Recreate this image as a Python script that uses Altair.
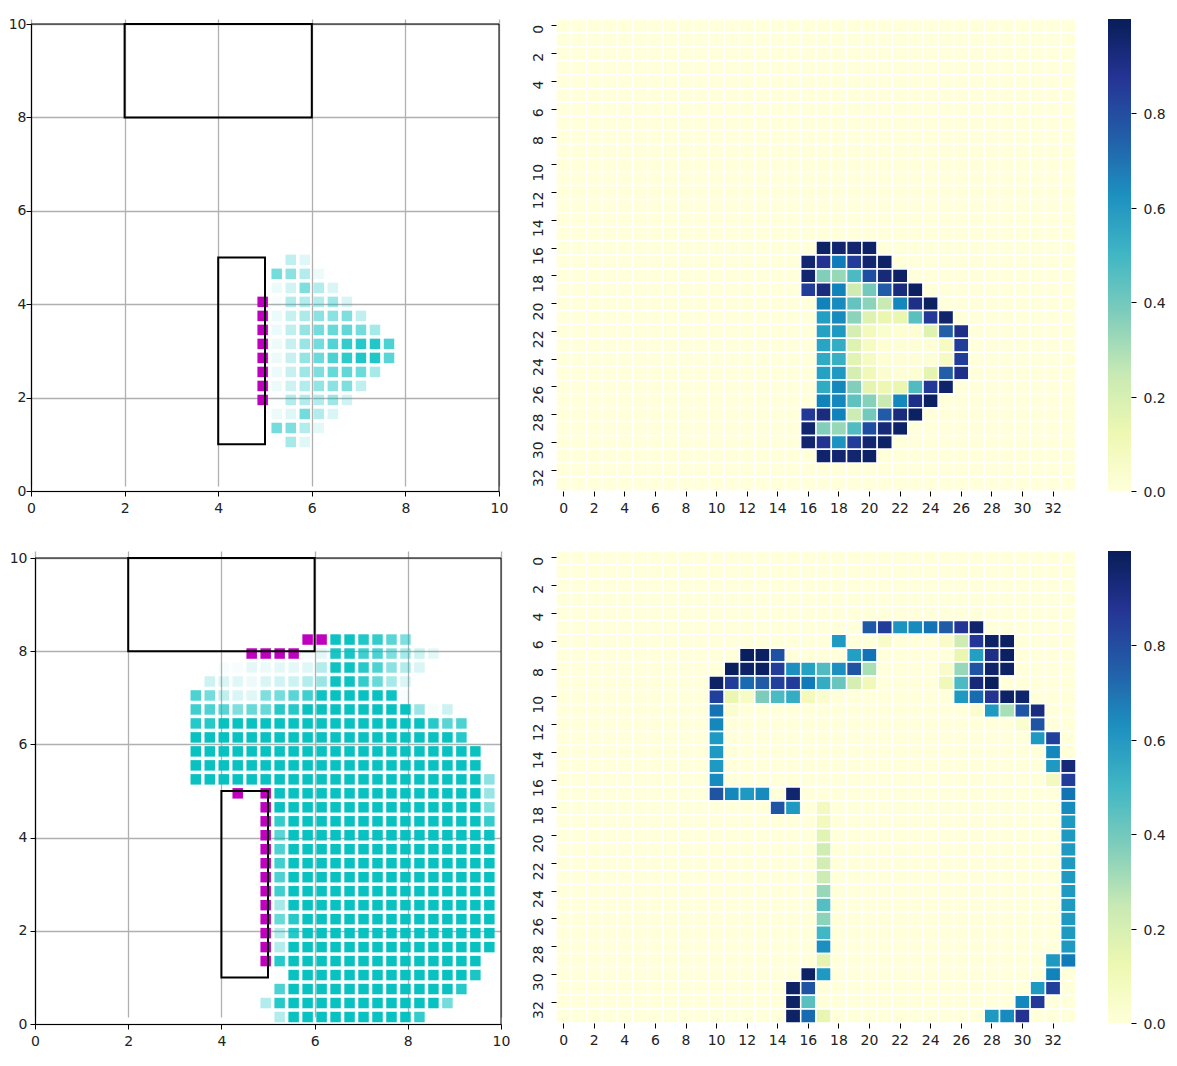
import altair as alt
import pandas as pd

TICKS = [0, 2, 4, 6, 8, 10]
HEAT_TICKS = list(range(0, 34, 2))
BAR_TICKS = [0.0, 0.2, 0.4, 0.6, 0.8]
YLGNBU = ["#ffffd9", "#edf8b1", "#c7e9b4", "#7fcdbb", "#41b6c4", "#1d91c0", "#225ea8", "#253494", "#081d58"]
YLGNBU_POS = [0, 0.125, 0.25, 0.375, 0.5, 0.625, 0.75, 0.875, 1]
TEAL = "#00bfbf"
MAGENTA = "#bf00bf"
RECT_A = [2, 8, 6, 10]
RECT_B = [4, 1, 5, 5]

# row index k -> (first column i, alpha values)
TOP_TEAL = {
    16: (18, [.25, .12]),
    15: (17, [.55, .45, .3, .08]),
    14: (17, [.07, .18, .5, .3, .15]),
    13: (17, [.03, .3, .3, .3, .38, .15]),
    12: (17, [.08, .22, .32, .45, .45, .5, .25]),
    11: (17, [.08, .25, .42, .55, .6, .62, .55, .35]),
    10: (17, [.07, .22, .4, .55, .68, .8, .85, .87, .7]),
    9: (17, [.07, .22, .42, .58, .7, .82, .87, .88, .65]),
    8: (17, [.08, .22, .38, .5, .6, .62, .58, .35]),
    7: (17, [.07, .2, .3, .42, .45, .5, .25]),
    6: (17, [.02, .3, .3, .3, .38, .18]),
    5: (17, [.07, .12, .55, .3, .15]),
    4: (17, [.55, .5, .3, .1]),
    3: (18, [.35, .12]),
}
TOP_MAGENTA = [(16, 13), (16, 12), (16, 11), (16, 10), (16, 9), (16, 8), (16, 7), (16, 6)]

BOT_TEAL = {
    27: (21, [.95, .95, .88, .8, .65, .5]),
    26: (19, [.03, .1, .9, .9, .75, .7, .5, .35, .2, .1]),
    25: (13, [.03, .03, .1, .07, .1, .1, .12, .3, .95, .95, .85, .7, .45, .3, .15]),
    24: (12, [.2, .15, .12, .07, .15, .18, .2, .3, .4, .95, .95, .8, .6, .35, .15]),
    23: (11, [.7, .55, .25, .15, .12, .5, .55, .65, .75, .95, .97, .97, .97, .97, .95, .03]),
    22: (11, [.75, .7, .65, .5, .6, .6, .85, .85, .97, .97, .97, .97, .97, .97, .97, .97, .4, .04, .2]),
    21: (11, [.85, .85, .97, .97, .97, .97, .97, .97, .97, .97, .97, .97, .97, .97, .97, .97, .97, .85, .65, .7]),
    20: (11, [.97, .97, .97, .97, .97, .97, .97, .97, .97, .97, .97, .97, .97, .97, .97, .97, .97, .97, .97, .85]),
    19: (11, [.97, .97, .97, .97, .97, .97, .97, .97, .97, .97, .97, .97, .97, .97, .97, .97, .97, .97, .97, .97, .97]),
    18: (11, [.97, .97, .97, .97, .97, .97, .97, .97, .97, .97, .97, .97, .97, .97, .97, .97, .97, .97, .97, .97, .97]),
    17: (11, [.97, .97, .97, .97, .97, .97, .97, .97, .97, .97, .97, .97, .97, .97, .97, .97, .97, .97, .97, .97, .97, .45]),
    16: (15, [.03, 0, .97, .97, .97, .97, .97, .97, .97, .97, .97, .97, .97, .97, .97, .97, .97, .4]),
    15: (17, [.97, .97, .97, .97, .97, .97, .97, .97, .97, .97, .97, .97, .97, .97, .97, .5]),
    14: (17, [.8, .97, .97, .97, .97, .97, .97, .97, .97, .97, .97, .97, .97, .97, .97, .8]),
    13: (17, [.65, .97, .97, .97, .97, .97, .97, .97, .97, .97, .97, .97, .97, .97, .97, .95]),
    12: (17, [.7, .97, .97, .97, .97, .97, .97, .97, .97, .97, .97, .97, .97, .97, .97, .97]),
    11: (17, [.75, .97, .97, .97, .97, .97, .97, .97, .97, .97, .97, .97, .97, .97, .97, .97]),
    10: (17, [.7, .97, .97, .97, .97, .97, .97, .97, .97, .97, .97, .97, .97, .97, .97, .97]),
    9: (17, [.75, .97, .97, .97, .97, .97, .97, .97, .97, .97, .97, .97, .97, .97, .97, .97]),
    8: (17, [.35, .97, .97, .97, .97, .97, .97, .97, .97, .97, .97, .97, .97, .97, .97, .97]),
    7: (17, [.6, .85, .97, .97, .97, .97, .97, .97, .97, .97, .97, .97, .97, .97, .97, .97]),
    6: (17, [.3, .85, .97, .97, .97, .97, .97, .97, .97, .97, .97, .97, .97, .97, .97, .97]),
    5: (17, [.3, .97, .97, .97, .97, .97, .97, .97, .97, .97, .97, .97, .97, .97, .97, .97]),
    4: (17, [.85, .97, .97, .97, .97, .97, .97, .97, .97, .97, .97, .97, .97, .97, .97]),
    3: (17, [.02, .97, .97, .97, .97, .97, .97, .97, .97, .97, .97, .97, .97, .97, .9]),
    2: (17, [.7, .97, .97, .97, .97, .97, .97, .97, .97, .97, .97, .97, .97, .85]),
    1: (16, [.3, .85, .97, .97, .97, .97, .97, .97, .97, .97, .97, .97, .97, .55]),
    0: (17, [.3, .97, .97, .97, .97, .97, .97, .97, .97, .97, .8]),
}
BOT_MAGENTA = [(19, 27), (20, 27), (15, 26), (16, 26), (17, 26), (18, 26), (14, 16), (16, 16),
               (16, 15), (16, 14), (16, 13), (16, 12), (16, 11), (16, 10), (16, 9), (16, 8),
               (16, 7), (16, 6), (16, 5), (16, 4)]

# heat row r -> (first column c, values); missing cells are 0
TOP_HEAT = {
    16: (17, [.97, .95, .95, .97]),
    17: (16, [.95, .88, .68, .85, .95, .97]),
    18: (16, [.95, .37, .33, .48, .8, .93, .97]),
    19: (16, [.85, .92, .66, .22, .4, .76, .92, .98]),
    20: (17, [.66, .64, .43, .35, .24, .65, .9, .98]),
    21: (17, [.58, .64, .35, .17, .13, .13, .45, .86, .96]),
    22: (17, [.57, .6, .2, .09, .04, .02, .02, .17, .75, .9]),
    23: (17, [.56, .53, .17, .07, .02, .01, .01, .01, .07, .85]),
    24: (17, [.54, .52, .16, .07, .02, .01, .01, .01, .07, .85]),
    25: (17, [.57, .6, .2, .1, .03, .01, .02, .15, .75, .9]),
    26: (17, [.54, .65, .37, .15, .12, .13, .47, .86, .96]),
    27: (17, [.66, .65, .44, .36, .24, .65, .9, .98]),
    28: (16, [.86, .92, .66, .23, .4, .76, .92, .98]),
    29: (16, [.95, .37, .33, .47, .8, .93, .97]),
    30: (16, [.95, .88, .62, .85, .95, .97]),
    31: (17, [.96, .95, .95, .97]),
}
BOT_HEAT = [
    (5, 20, [.77, .85, .62, .64, .7, .76, .87, .96]),
    (6, 18, [.6]), (6, 21, [.05]), (6, 25, [.05, .22, .87, .97, .98]),
    (7, 12, [.99, .98, .79]), (7, 19, [.58, .7]), (7, 26, [.13, .58, .9, .98]),
    (8, 11, [.99, .97, .98, .85, .63, .57, .47, .63, .78, .3]), (8, 25, [.05, .33, .78, .96, .97]),
    (9, 10, [.97, .85, .72, .76, .84, .85, .68, .53, .42, .2, .1]), (9, 25, [.1, .48, .93, .99]),
    (10, 10, [.84, .13, .06, .38, .48, .53, .09, .04]), (10, 26, [.6, .72, .88, .97, .96]),
    (11, 10, [.7, .03]), (11, 27, [.03, .6, .3, .78, .92]),
    (12, 10, [.65]), (12, 30, [.04, .78]),
    (13, 10, [.6]), (13, 31, [.6, .84]),
    (14, 10, [.6]), (14, 32, [.65]),
    (15, 10, [.6]), (15, 32, [.6, .93]),
    (16, 10, [.64]), (16, 32, [.08, .85]),
    (17, 10, [.78, .65, .6, .64]), (17, 15, [.95]), (17, 33, [.7]),
    (18, 14, [.78, .6]), (18, 17, [.08]), (18, 33, [.64]),
    (19, 17, [.09]), (19, 33, [.6]),
    (20, 17, [.16]), (20, 33, [.6]),
    (21, 17, [.22]), (21, 33, [.6]),
    (22, 17, [.21]), (22, 33, [.6]),
    (23, 17, [.23]), (23, 33, [.6]),
    (24, 17, [.33]), (24, 33, [.6]),
    (25, 17, [.46]), (25, 33, [.6]),
    (26, 17, [.35]), (26, 33, [.6]),
    (27, 17, [.5]), (27, 33, [.6]),
    (28, 17, [.63]), (28, 33, [.6]),
    (29, 17, [.15]), (29, 32, [.6, .68]),
    (30, 16, [.97, .6]), (30, 32, [.66]),
    (31, 15, [.97, .78]), (31, 31, [.6, .84]),
    (32, 15, [.97, .45]), (32, 30, [.65, .86]),
    (33, 15, [.97, .72, .14]), (33, 28, [.6, .64, .88]),
]


def grid_x(i):
    return 0.15 + 0.3 * i


def teal_frame(rows):
    out = []
    for k, (start, vals) in rows.items():
        for n, a in enumerate(vals):
            if a > 0:
                out.append({"x": grid_x(start + n), "y": grid_x(k), "a": a})
    return pd.DataFrame(out)


def magenta_frame(cells):
    return pd.DataFrame([{"x": grid_x(i), "y": grid_x(k)} for i, k in cells])


def heat_frame(entries):
    cells = {(r, c): 0.0 for r in range(34) for c in range(34)}
    for r, start, vals in entries:
        for n, v in enumerate(vals):
            cells[(r, start + n)] = v
    return pd.DataFrame([{"r": r, "c": c, "v": v} for (r, c), v in cells.items()])


def scatter_panel(teal, magenta, xrange, yrange, height, ypad, yoffset):
    xs = alt.Scale(domain=[0, 10], range=xrange)
    ys = alt.Scale(domain=[0, 10], range=yrange)
    xa = alt.Axis(values=TICKS, title=None, grid=True, gridColor="#b0b0b0", gridWidth=1.3, tickColor="#000000",
                  domainColor="#000000", labelAngle=0, tickSize=5, labelPadding=5, labelFontSize=14,
                  format="d", labelColor="#222222", domainWidth=1.2, labelFlush=False)
    ya = alt.Axis(values=TICKS, title=None, grid=True, gridColor="#b0b0b0", gridWidth=1.3, tickColor="#000000",
                  domainColor="#000000", tickSize=5, labelPadding=ypad, labelFontSize=14, offset=yoffset,
                  format="d", labelColor="#222222", domainWidth=1.2, labelFlush=False)
    t = alt.Chart(teal).mark_square(size=110, color=TEAL).encode(
        x=alt.X("x:Q", scale=xs, axis=xa), y=alt.Y("y:Q", scale=ys, axis=ya),
        opacity=alt.Opacity("a:Q", scale=None, legend=None))
    m = alt.Chart(magenta).mark_square(size=110, color=MAGENTA, opacity=1).encode(
        x=alt.X("x:Q", scale=xs, axis=xa), y=alt.Y("y:Q", scale=ys, axis=ya))
    rects = pd.DataFrame([dict(zip(["x0", "y0", "x1", "y1"], RECT_A)), dict(zip(["x0", "y0", "x1", "y1"], RECT_B))])
    r = alt.Chart(rects).mark_rect(fill="transparent", stroke="#000000", strokeWidth=2).encode(
        x=alt.X("x0:Q", scale=xs, axis=xa), x2="x1:Q",
        y=alt.Y("y0:Q", scale=ys, axis=ya), y2="y1:Q")
    spine_v = alt.Chart(pd.DataFrame({"x": [10], "y0": [0], "y1": [10]})).mark_rule(color="#000000", strokeWidth=1).encode(
        x=alt.X("x:Q", scale=xs, axis=xa), y=alt.Y("y0:Q", scale=ys, axis=ya), y2="y1:Q")
    spine_h = alt.Chart(pd.DataFrame({"y": [10], "x0": [0], "x1": [10]})).mark_rule(color="#000000", strokeWidth=1).encode(
        y=alt.Y("y:Q", scale=ys, axis=ya), x=alt.X("x0:Q", scale=xs, axis=xa), x2="x1:Q")
    return alt.layer(t, m, r, spine_v, spine_h).properties(width=493, height=height)


def heat_panel(df):
    color = alt.Color("v:Q", legend=None, scale=alt.Scale(domain=YLGNBU_POS, range=YLGNBU))
    return alt.Chart(df).mark_rect(stroke="#ffffff", strokeWidth=1.5).encode(
        x=alt.X("c:O", scale=alt.Scale(type="band", domain=list(range(34)), paddingInner=0, paddingOuter=0),
                axis=alt.Axis(values=HEAT_TICKS, title=None, labelAngle=0, domain=False, tickSize=5, labelFontSize=14,
                              tickColor="#000000", labelPadding=5, labelColor="#222222")),
        y=alt.Y("r:O", scale=alt.Scale(type="band", domain=list(range(34)), paddingInner=0, paddingOuter=0),
                axis=alt.Axis(values=HEAT_TICKS, title=None, labelAngle=270, labelAlign="right", labelBaseline="bottom",
                              labelOffset=-1, domain=False, tickSize=5, labelFontSize=14, tickColor="#000000",
                              labelPadding=6, labelColor="#222222")),
        color=color,
    ).properties(width=520, height=472)


def colorbar():
    grad = alt.Gradient(gradient="linear", x1=0, x2=0, y1=1, y2=0,
                        stops=[alt.GradientStop(offset=o, color=c) for o, c in zip(YLGNBU_POS, YLGNBU)])
    df = pd.DataFrame({"y0": [0.0], "y1": [1.0]})
    return alt.Chart(df).mark_rect(color=grad).encode(
        x=alt.value(0), x2=alt.value(23),
        y=alt.Y("y0:Q", scale=alt.Scale(domain=[0, 1]),
                axis=alt.Axis(orient="right", values=BAR_TICKS, format=".1f", title=None, grid=False, domain=False,
                              tickSize=5, labelFontSize=14, labelPadding=7, tickColor="#000000", labelColor="#222222",
                              labelFlush=False, labelOffset=1.5)),
        y2="y1:Q",
    ).properties(width=23, height=472)


tl = scatter_panel(teal_frame(TOP_TEAL), magenta_frame(TOP_MAGENTA), [0, 468], [472, 5], 472, 0, 0)
bl = scatter_panel(teal_frame(BOT_TEAL), magenta_frame(BOT_MAGENTA), [4, 470], [473, 7], 473, 3, -4)
top_entries = [(r, s, v) for r, (s, v) in TOP_HEAT.items()]
tr = heat_panel(heat_frame(top_entries))
br = heat_panel(heat_frame(BOT_HEAT))

chart = alt.concat(tl, tr, colorbar(), bl, br, colorbar(), columns=3, bounds="flush",
                   spacing={"row": 60, "column": 32}).resolve_scale(
    x="independent", y="independent", color="independent").properties(
    padding={"left": 0, "top": 9, "right": 0, "bottom": 0}
).configure(font="DejaVu Sans").configure_view(stroke=None)

chart.save("out.html", embed_options={"renderer": "svg", "actions": False})
